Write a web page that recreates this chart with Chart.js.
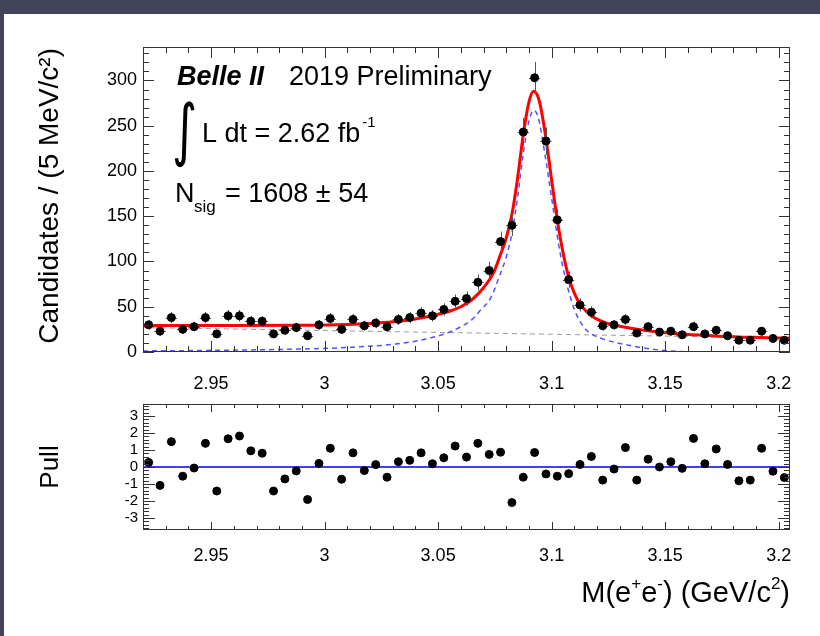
<!DOCTYPE html>
<html>
<head>
<meta charset="utf-8">
<script src="https://cdn.jsdelivr.net/npm/chart.js@4.4.0/dist/chart.umd.min.js"></script>
<style>
  html, body { margin: 0; padding: 0; background: #42445c; overflow: hidden; }
  #panel { position: absolute; left: 4px; top: 14px; right: 0; bottom: 0; background: #fff; }
  canvas { position: absolute; left: 0; }
  #massChart { top: 0; }
  #pullChart { top: 390px; }
</style>
</head>
<body>
<div id="panel"></div>
<canvas id="massChart" width="820" height="390"></canvas>
<canvas id="pullChart" width="820" height="246"></canvas>
<script>
// bin centres, 5 MeV bins from 2.92 to 3.205
const massBins = [
  2.9225, 2.9275, 2.9325, 2.9375, 2.9425, 2.9475, 2.9525, 2.9575, 2.9625, 2.9675,
  2.9725, 2.9775, 2.9825, 2.9875, 2.9925, 2.9975, 3.0025, 3.0075, 3.0125, 3.0175,
  3.0225, 3.0275, 3.0325, 3.0375, 3.0425, 3.0475, 3.0525, 3.0575, 3.0625, 3.0675,
  3.0725, 3.0775, 3.0825, 3.0875, 3.0925, 3.0975, 3.1025, 3.1075, 3.1125, 3.1175,
  3.1225, 3.1275, 3.1325, 3.1375, 3.1425, 3.1475, 3.1525, 3.1575, 3.1625, 3.1675,
  3.1725, 3.1775, 3.1825, 3.1875, 3.1925, 3.1975, 3.2025
];
const candidates = [
  30, 23, 38, 25, 28, 38, 20, 40, 40, 34,
  34, 20, 24, 27, 18, 30, 37, 25, 36, 29,
  32, 28, 36, 38, 43, 40, 47, 56, 59, 77,
  90, 122, 140, 243, 303, 233, 146, 80, 52, 44,
  29, 30, 36, 21, 28, 22, 23, 19, 28, 20,
  24, 18, 13, 13, 23, 15, 13
];
const pulls = [
  0.27, -1.08, 1.49, -0.54, -0.06, 1.39, -1.41, 1.66, 1.82, 0.95,
  0.81, -1.41, -0.70, -0.23, -1.91, 0.21, 1.10, -0.72, 0.83, -0.21,
  0.14, -0.60, 0.31, 0.39, 0.83, 0.19, 0.54, 1.23, 0.58, 1.39,
  0.74, 0.87, -2.09, -0.60, 0.85, -0.41, -0.54, -0.39, 0.15, 0.62,
  -0.77, -0.12, 1.14, -0.77, 0.46, 0.00, 0.31, -0.08, 1.68, 0.19,
  1.06, 0.15, -0.81, -0.77, 1.10, -0.25, -0.62
];

// fit curves
const fitMass = [2.92, 2.96, 2.99, 3.01, 3.02, 3.03, 3.04, 3.048, 3.055, 3.06, 3.065, 3.07,
  3.0745, 3.0775, 3.08, 3.0825, 3.085, 3.0875, 3.09, 3.092, 3.0945, 3.0975, 3.1, 3.1025,
  3.105, 3.1075, 3.11, 3.1125, 3.1175, 3.123, 3.13, 3.144, 3.159, 3.1735, 3.188, 3.205];
const fitTotal = [29.3, 29.3, 29.6, 30.5, 31.5, 33.3, 36.5, 40.6, 45, 50, 58, 71,
  88, 108, 126, 152, 192, 240, 276, 288, 278, 236, 190, 146,
  110, 83, 65, 53, 40, 33, 28.5, 23, 19.5, 17.5, 16.2, 15.3];

const sigMass = [2.92, 2.95, 2.988, 3.01, 3.032, 3.045, 3.054, 3.06, 3.065, 3.0686, 3.073,
  3.0775, 3.08, 3.0825, 3.085, 3.0875, 3.09, 3.092, 3.094, 3.0972, 3.1003, 3.1032, 3.1062,
  3.11, 3.1143, 3.1175, 3.123, 3.13, 3.1446, 3.16, 3.205];
const sigCurve = [1.2, 1.8, 3.2, 5, 9, 14.5, 21, 28, 36, 46, 59,
  87, 105, 131, 171, 219, 255, 267, 260, 216, 165, 117, 80,
  47, 27, 20, 14, 9.5, 3, 0.3, 0];

const bkgMass = [2.92, 3.205];
const bkgCurve = [27, 15.3];

const FONT = '"Liberation Sans", Arial, Helvetica, sans-serif';
const xy = (xs, ys) => xs.map((v, i) => ({ x: v, y: ys[i] }));
const fmtMass = v => String(Math.round(v * 100) / 100);

// ROOT style frame with inward ticks on all four sides
const rootFrame = {
  id: 'rootFrame',
  afterDraw(chart, args, o) {
    const { ctx, chartArea: a, scales: { x, y } } = chart;
    ctx.save();
    ctx.strokeStyle = '#333';
    ctx.lineWidth = 1;
    const seg = (x1, y1, x2, y2) => { ctx.moveTo(x1, y1); ctx.lineTo(x2, y2); };
    ctx.beginPath();
    for (let k = Math.ceil(x.min / o.xMinor - 1e-6); k * o.xMinor <= x.max + 1e-9; k++) {
      const v = k * o.xMinor;
      const major = Math.abs(v / o.xMajor - Math.round(v / o.xMajor)) < 1e-6;
      const len = major ? o.xMajorLen : o.xMinorLen;
      const px = Math.round(x.getPixelForValue(v)) + 0.5;
      seg(px, a.bottom, px, a.bottom - len);
      seg(px, a.top, px, a.top + len);
    }
    for (let k = Math.ceil(y.min / o.yMinor - 1e-6); k * o.yMinor <= y.max + 1e-9; k++) {
      const v = k * o.yMinor;
      const major = Math.abs(v / o.yMajor - Math.round(v / o.yMajor)) < 1e-6;
      const len = major ? o.yMajorLen : o.yMinorLen;
      const py = Math.round(y.getPixelForValue(v)) + 0.5;
      seg(a.left, py, a.left + len, py);
      seg(a.right, py, a.right - len, py);
    }
    ctx.stroke();
    ctx.strokeRect(a.left + 0.5, a.top + 0.5, a.width - 1, a.height - 1);
    ctx.restore();
  }
};

// poisson error bars under the data markers
const errorBars = {
  id: 'errorBars',
  beforeDatasetDraw(chart, args) {
    if (args.index !== 0) return;
    const { ctx, scales: { x, y } } = chart;
    ctx.save();
    ctx.strokeStyle = '#555';
    ctx.lineWidth = 1;
    ctx.beginPath();
    massBins.forEach((m, i) => {
      const n = candidates[i], e = Math.sqrt(n);
      const px = Math.round(x.getPixelForValue(m)) + 0.5;
      const py = Math.round(y.getPixelForValue(n)) + 0.5;
      ctx.moveTo(px, y.getPixelForValue(n - e));
      ctx.lineTo(px, y.getPixelForValue(n + e));
      ctx.moveTo(x.getPixelForValue(m - 0.0025), py);
      ctx.lineTo(x.getPixelForValue(m + 0.0025), py);
    });
    ctx.stroke();
    ctx.restore();
  }
};

const massText = {
  id: 'massText',
  afterDraw(chart) {
    const ctx = chart.ctx;
    ctx.save();
    ctx.fillStyle = '#000';
    ctx.textBaseline = 'alphabetic';
    ctx.textAlign = 'left';
    const big = '27px ' + FONT;
    ctx.font = 'italic bold 27px ' + FONT;
    ctx.fillText('Belle II', 177, 85);
    ctx.font = big;
    ctx.fillText('2019 Preliminary', 289, 85);

    ctx.save();
    ctx.translate(172, 153);
    ctx.scale(1.1, 1.55);
    ctx.font = '44px "DejaVu Sans"';
    ctx.fillText('\u222B', 0, 0);
    ctx.restore();
    ctx.font = big;
    const lumi = 'L dt = 2.62 fb';
    ctx.fillText(lumi, 202, 142);
    const lw = ctx.measureText(lumi).width;
    ctx.font = '15px ' + FONT;
    ctx.fillText('-1', 202 + lw + 2, 127);

    ctx.font = big;
    ctx.fillText('N', 175, 202);
    ctx.font = '17px ' + FONT;
    ctx.fillText('sig', 194, 212);
    ctx.font = big;
    ctx.fillText('= 1608 \u00B1 54', 225, 202);

    ctx.translate(58, 48);
    ctx.rotate(-Math.PI / 2);
    ctx.textAlign = 'right';
    ctx.font = '28px ' + FONT;
    ctx.fillText('Candidates / (5 MeV/c\u00B2)', 0, 0);
    ctx.restore();
  }
};

const pullText = {
  id: 'pullText',
  afterDraw(chart) {
    const ctx = chart.ctx;
    ctx.save();
    ctx.fillStyle = '#000';
    ctx.textBaseline = 'alphabetic';
    // x title with super scripts, right aligned
    const parts = [['M(e', 0], ['+', 1], ['e', 0], ['-', 1], [') (GeV/c', 0], ['2', 1], [')', 0]];
    const big = '29px ' + FONT, small = '17px ' + FONT;
    let w = 0;
    parts.forEach(([t, s]) => { ctx.font = s ? small : big; w += ctx.measureText(t).width; });
    let cx = 790 - w;
    parts.forEach(([t, s]) => {
      ctx.font = s ? small : big;
      ctx.fillText(t, cx, s ? 199 : 212);
      cx += ctx.measureText(t).width;
    });

    ctx.translate(58, 77);
    ctx.rotate(-Math.PI / 2);
    ctx.textAlign = 'center';
    ctx.font = '26px ' + FONT;
    ctx.fillText('Pull', 0, 0);
    ctx.restore();
  }
};

new Chart(document.getElementById('massChart'), {
  type: 'scatter',
  data: {
    datasets: [
      {
        label: 'Data',
        data: xy(massBins, candidates),
        backgroundColor: '#000',
        borderColor: '#000',
        pointRadius: 4,
        order: 0
      },
      {
        type: 'line',
        label: 'Total fit',
        data: xy(fitMass, fitTotal),
        borderColor: '#ff0000',
        borderWidth: 3,
        pointRadius: 0,
        cubicInterpolationMode: 'monotone',
        fill: false,
        order: 1
      },
      {
        type: 'line',
        label: 'Signal',
        data: xy(sigMass, sigCurve),
        borderColor: 'rgba(50,50,255,0.85)',
        borderWidth: 1.5,
        borderDash: [5, 4],
        pointRadius: 0,
        cubicInterpolationMode: 'monotone',
        fill: false,
        order: 2
      },
      {
        type: 'line',
        label: 'Background',
        data: xy(bkgMass, bkgCurve),
        borderColor: '#999',
        borderWidth: 1,
        borderDash: [5, 4],
        pointRadius: 0,
        fill: false,
        order: 3
      }
    ]
  },
  options: {
    responsive: false,
    animation: false,
    devicePixelRatio: 1,
    layout: { padding: { top: 47, right: 30, left: 0, bottom: 0 } },
    plugins: { legend: { display: false }, tooltip: { enabled: false }, rootFrame: { xMajor: 0.05, xMinor: 0.01, xMajorLen: 11, xMinorLen: 6, yMajor: 50, yMinor: 10, yMajorLen: 11, yMinorLen: 6 } },
    scales: {
      x: {
        type: 'linear', min: 2.92, max: 3.205,
        grid: { display: false, drawTicks: false }, border: { display: false },
        ticks: { stepSize: 0.05, includeBounds: false, padding: 21, color: '#000', font: { family: FONT, size: 18 }, maxRotation: 0, autoSkip: false, callback: fmtMass },
        afterFit: s => { s.height = 38; }
      },
      y: {
        min: 0, max: 337,
        grid: { display: false, drawTicks: false }, border: { display: false },
        ticks: { stepSize: 50, includeBounds: false, padding: 6, color: '#000', font: { family: FONT, size: 18 } },
        afterFit: s => { s.width = 143; }
      }
    }
  },
  plugins: [rootFrame, errorBars, massText]
});

new Chart(document.getElementById('pullChart'), {
  type: 'scatter',
  data: {
    datasets: [
      {
        label: 'Pull',
        data: xy(massBins, pulls),
        backgroundColor: '#000',
        borderColor: '#000',
        pointRadius: 4,
        order: 0
      },
      {
        type: 'line',
        label: 'Zero',
        data: [{ x: 2.92, y: 0 }, { x: 3.205, y: 0 }],
        borderColor: '#0000ee',
        borderWidth: 1.5,
        pointRadius: 0,
        fill: false,
        order: 1
      }
    ]
  },
  options: {
    responsive: false,
    animation: false,
    devicePixelRatio: 1,
    layout: { padding: { top: 13, right: 30, left: 0, bottom: 0 } },
    plugins: { legend: { display: false }, tooltip: { enabled: false }, rootFrame: { xMajor: 0.05, xMinor: 0.01, xMajorLen: 8, xMinorLen: 4, yMajor: 1, yMinor: 0.2, yMajorLen: 12, yMinorLen: 6 } },
    scales: {
      x: {
        type: 'linear', min: 2.92, max: 3.205,
        grid: { display: false, drawTicks: false }, border: { display: false },
        ticks: { stepSize: 0.05, includeBounds: false, padding: 15, color: '#000', font: { family: FONT, size: 18 }, maxRotation: 0, autoSkip: false, callback: fmtMass },
        afterFit: s => { s.height = 106; }
      },
      y: {
        min: -3.7, max: 3.7,
        grid: { display: false, drawTicks: false }, border: { display: false },
        ticks: { stepSize: 1, includeBounds: false, padding: 5, color: '#000', font: { family: FONT, size: 15 } },
        afterFit: s => { s.width = 143; }
      }
    }
  },
  plugins: [rootFrame, pullText]
});
</script>
</body>
</html>
